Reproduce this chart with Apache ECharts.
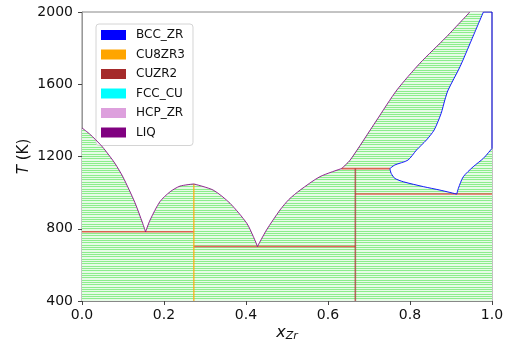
<!DOCTYPE html>
<html><head><meta charset="utf-8">
<script src="https://cdn.jsdelivr.net/npm/echarts@6/dist/echarts.min.js"></script>
<style>html,body{margin:0;padding:0;background:#fff}#c{width:508px;height:343px}</style>
</head><body><div id="c"></div>
<script>
// ---- data (x = mole fraction Zr, T in K) ----
const xTicks = [0, 0.2, 0.4, 0.6, 0.8, 1.0];
const yTicks = [400, 800, 1200, 1600, 2000];
const phases = ['BCC_ZR', 'CU8ZR3', 'CUZR2', 'FCC_CU', 'HCP_ZR', 'LIQ'];
const phaseColors = ['#0000ff', '#ffa500', '#a52a2a', '#00ffff', '#dda0dd', '#800080'];

const xCu8Zr3 = 0.2727, xCuZr2 = 0.6667;
const T_eut1 = 783, T_eut2 = 702, T_peri = 1133, T_eutd = 992, T_cu8zr3 = 1048;
const T_bottom = 400;

const liqCuSide = [[0,1358],[0.02,1322],[0.044,1268],[0.056,1236],[0.08,1163],[0.1,1086],[0.129,945],[0.148,830],[0.155,783]];
const liqCu8Zr3Left = [[0.155,783],[0.166,848],[0.19,950],[0.215,1005],[0.239,1036],[0.2727,1048]];
const liqCu8Zr3Right = [[0.2727,1048],[0.32,1014],[0.361,941],[0.402,830],[0.418,756],[0.428,702]];
const liqZrLow = [[0.428,702],[0.45,793],[0.483,904],[0.505,963],[0.532,1014],[0.58,1088],[0.633,1133]];
const liqZrHigh = [[0.633,1133],[0.654,1180],[0.719,1402],[0.768,1568],[0.824,1716],[0.889,1863],[0.946,2000]];
const bccSolidus = [[0.751,1133],[0.763,1153],[0.795,1180],[0.816,1236],[0.84,1291],[0.859,1347],[0.876,1439],[0.885,1513],[0.893,1568],[0.922,1697],[0.95,1845],[0.979,2000]];
const bccLower = [[0.751,1133],[0.754,1107],[0.763,1079],[0.784,1060],[0.833,1033],[0.873,1014],[0.914,992]];
const bccRight = [[0.914,992],[0.918,1024],[0.93,1088],[0.954,1143],[0.979,1190],[1.0,1245]];
const bccEdge = [[0.979,2000],[1.0,2000],[1.0,1245]];

const threePhaseLines = [
  [[0,T_eut1],[xCu8Zr3,T_eut1]],
  [[xCu8Zr3,T_eut2],[xCuZr2,T_eut2]],
  [[0.633,T_peri],[0.751,T_peri]],
  [[xCuZr2,T_eutd],[1,T_eutd]]
];
const cu8zr3Line = [[xCu8Zr3,T_bottom],[xCu8Zr3,T_cu8zr3]];
const cuzr2Line = [[xCuZr2,T_bottom],[xCuZr2,T_peri]];

// two-phase regions (filled with tie lines)
const regions = [
  [...liqCuSide, [0,T_eut1]],
  [...liqCu8Zr3Left, [xCu8Zr3,T_eut1]],
  [[0,T_bottom],[xCu8Zr3,T_bottom],[xCu8Zr3,T_eut1],[0,T_eut1]],
  [...liqCu8Zr3Right, [xCu8Zr3,T_eut2]],
  [[xCu8Zr3,T_bottom],[xCuZr2,T_bottom],[xCuZr2,T_eut2],[xCu8Zr3,T_eut2]],
  [...liqZrLow, [xCuZr2,T_peri],[xCuZr2,T_eut2]],
  [...liqZrHigh, ...bccSolidus.slice().reverse()],
  [[xCuZr2,T_peri], ...bccLower, [xCuZr2,T_eutd]],
  [...bccRight, [1,T_eutd]],
  [[xCuZr2,T_bottom],[1,T_bottom],[1,T_eutd],[xCuZr2,T_eutd]]
];

// tie-line hatch pattern
const pc = document.createElement('canvas');
pc.width = 4; pc.height = 7;
const g = pc.getContext('2d');
g.fillStyle = '#e6fbe6'; g.fillRect(0,0,4,7);
g.fillStyle = '#8ced8c';
[0,2,4].forEach(r => g.fillRect(0,r,4,1));
const hatch = { image: pc, repeat: 'repeat' };

const FONT = 'DejaVu Sans';
function ln(name, data, color, width, opacity, z, smooth) {
  return { type:'line', name, data, showSymbol:false, symbol:'none', silent:true, animation:false,
    smooth: smooth || false,
    lineStyle:{ color, width, opacity: opacity == null ? 1 : opacity }, itemStyle:{ color }, z: z || 3 };
}

const series = [
  { type:'custom', name:'tie', silent:true, animation:false, z:1, clip:true,
    data: regions.map((r,i) => [i]),
    renderItem: (params, api) => ({
      type:'polygon',
      shape:{ points: regions[params.dataIndex].map(p => api.coord(p)) },
      style:{ fill: hatch }
    })
  }
];
threePhaseLines.forEach(d => series.push(ln('3ph', d, '#e8403c', 1.6, 0.8, 3)));
series.push(ln('CU8ZR3', cu8zr3Line, '#ffa500', 1.6, 0.7, 3));
series.push(ln('CUZR2', cuzr2Line, '#a52a2a', 1.6, 0.7, 3));
series.push(ln('FCC_CU', [], '#00ffff', 1, 1, 3));
series.push(ln('HCP_ZR', [], '#dda0dd', 1, 1, 3));
[liqCuSide, liqCu8Zr3Left, liqCu8Zr3Right, liqZrLow, liqZrHigh].forEach(d => series.push(ln('LIQ', d, '#800080', 1, 0.85, 4, 0.25)));
[bccSolidus, bccLower, bccRight].forEach(d => series.push(ln('BCC_ZR', d, '#0000ff', 1, 0.9, 4, 0.25)));
series.push(ln('BCC_ZR', bccEdge, '#0000ff', 1, 0.9, 4));

const chart = echarts.init(document.getElementById('c'), null, { renderer:'canvas' });
chart.setOption({
  animation:false,
  backgroundColor:'#fff',
  grid:{ left:82, right:16, top:12, bottom:42, containLabel:false, outerBoundsMode:'none',
    show:true, borderColor:'#888', borderWidth:1, backgroundColor:'transparent' },
  xAxis:{
    type:'value', min:xTicks[0], max:xTicks[xTicks.length-1], interval:0.2,
    axisLine:{ onZero:false, lineStyle:{ color:'#888' } },
    axisTick:{ length:4, lineStyle:{ color:'#444' } },
    splitLine:{ show:false },
    axisLabel:{ formatter: v => v.toFixed(1), fontSize:14, fontFamily:FONT, color:'#111', margin:7 },
    name:'{it|x}{sub|Zr}', nameLocation:'middle', nameGap:22, nameMoveOverlap:false,
    nameTextStyle:{ rich:{
      it:{ fontStyle:'italic', fontSize:16, fontFamily:FONT, color:'#111' },
      sub:{ fontStyle:'italic', fontSize:11, fontFamily:FONT, color:'#111', padding:[8,0,0,0] }
    } }
  },
  yAxis:{
    type:'value', min:yTicks[0], max:yTicks[yTicks.length-1], interval:400,
    axisLine:{ show:true, onZero:false, lineStyle:{ color:'#999' } },
    axisTick:{ show:true, length:4, lineStyle:{ color:'#444' } },
    splitLine:{ show:false },
    axisLabel:{ formatter: v => String(v), fontSize:14, fontFamily:FONT, color:'#111', margin:9 },
    name:'{it|T} (K)', nameLocation:'middle', nameGap:50, nameRotate:90, nameMoveOverlap:false,
    nameTextStyle:{ fontSize:15, fontFamily:FONT, color:'#111',
      rich:{ it:{ fontStyle:'italic', fontSize:15, fontFamily:FONT, color:'#111' } } }
  },
  legend:{
    orient:'vertical', left:96, top:24,
    data: phases.map((p,i) => ({ name:p, icon:'rect', itemStyle:{ color:phaseColors[i] } })),
    itemWidth:25, itemHeight:10, itemGap:7.5,
    padding:[5,8,7,5],
    backgroundColor:'rgba(255,255,255,0.85)', borderColor:'#d4d4d4', borderWidth:1, borderRadius:3,
    selectedMode:false,
    textStyle:{ fontFamily:FONT, fontSize:12, color:'#111', lineHeight:12, padding:[0,0,0,5] }
  },
  series
});
</script>
</body></html>
